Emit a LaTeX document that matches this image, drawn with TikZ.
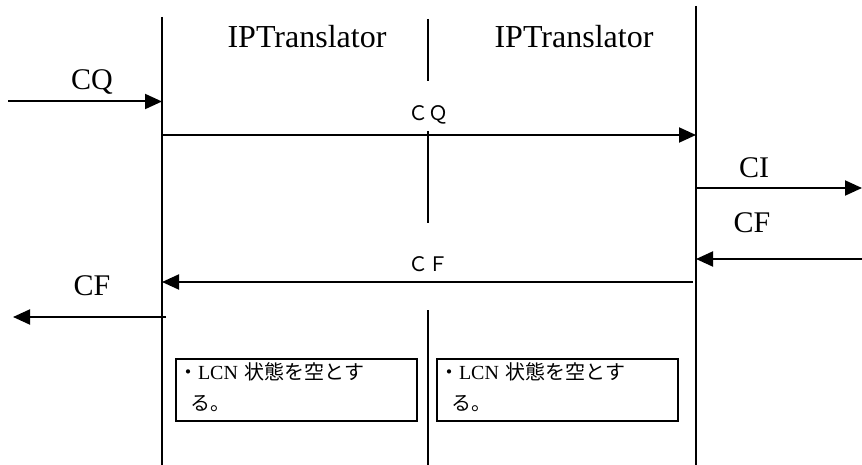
\documentclass[tikz,border=0pt]{standalone}
\usepackage{fontspec}
\setmainfont{Liberation Serif}
\newfontfamily\jpfont{Noto Sans CJK JP}
\usetikzlibrary{arrows.meta}
\usetikzlibrary{positioning}

\begin{document}
\begin{tikzpicture}[
    x=0.5pt, y=-0.5pt,
    lifeline/.style={line width=1pt},
    msg/.style={line width=1pt, -{Triangle[length=8.5pt,width=7.5pt]}},
    label/.style={font=\fontsize{15}{18}\selectfont, inner sep=0pt, anchor=base},
    head label/.style={label, font=\fontsize{16}{19}\selectfont},
    wide label/.style={font=\jpfont\fontsize{10}{12}\selectfont, inner sep=0pt, anchor=base},
    state box/.style={draw, line width=1pt, anchor=north west,
        minimum width=120.5pt, minimum height=31pt, text width=118.5pt,
        align=left, inner xsep=1pt, inner ysep=1pt,
        font=\fontsize{10}{15.5}\selectfont},
    every node/.style={color=black}
    ]
\useasboundingbox (0,0) rectangle (862,465);

\newcommand{\leftX}{162}
\newcommand{\midX}{428}
\newcommand{\rightX}{696}
\newcommand{\stateText}{{\jpfont ・}LCN {\jpfont 状態を空とす}\\
    \hspace*{6pt}{\jpfont る。}\par\vspace*{3pt}}

% lifelines
\coordinate (Ltop) at (\leftX,17);
\coordinate (Lbot) at (\leftX,465);
\coordinate (Rtop) at (\rightX,6);
\coordinate (Rbot) at (\rightX,465);
\draw[lifeline] (Ltop) -- (Lbot);
\draw[lifeline] (Rtop) -- (Rbot);
\draw[lifeline] (\midX,19) -- (\midX,81);
\draw[lifeline] (\midX,131) -- (\midX,223);
\draw[lifeline] (\midX,310) -- (\midX,465);

% headers
\node[head label] (trA) at (307,48) {IPTranslator};
\node[head label] (trB) at (574,48) {IPTranslator};

% messages
\coordinate (cqSrc) at (8,101.5);
\coordinate (cqDst) at (\leftX,101.5);
\draw[msg] (cqSrc) -- (cqDst);
\node[label] (cqIn) at (92,90) {CQ};

\coordinate (cqA) at (\leftX,135);
\coordinate (cqB) at (\rightX,135);
\draw[msg] (cqA) -- (cqB);
\node[wide label] (cqMid) at (428,120) {ＣＱ};

\coordinate (ciA) at (\rightX,188);
\coordinate (ciB) at (862,188);
\draw[msg] (ciA) -- (ciB);
\node[label] (ci) at (754,177) {CI};

\coordinate (cfSrc) at (862,259);
\coordinate (cfDst) at (\rightX,259);
\draw[msg] (cfSrc) -- (cfDst);
\node[label] (cfIn) at (752,232) {CF};

\coordinate (cfA) at (693,282);
\coordinate (cfB) at (\leftX,282);
\draw[msg] (cfA) -- (cfB);
\node[wide label] (cfMid) at (428,271) {ＣＦ};

\coordinate (cfC) at (166,317);
\coordinate (cfD) at (13,317);
\draw[msg] (cfC) -- (cfD);
\node[label] (cfOut) at (92,295) {CF};

% state boxes
\node[state box] (boxA) at (175,358) {\stateText};
\node[state box] (boxB) at (436,358) {\stateText};

\end{tikzpicture}
\end{document}
